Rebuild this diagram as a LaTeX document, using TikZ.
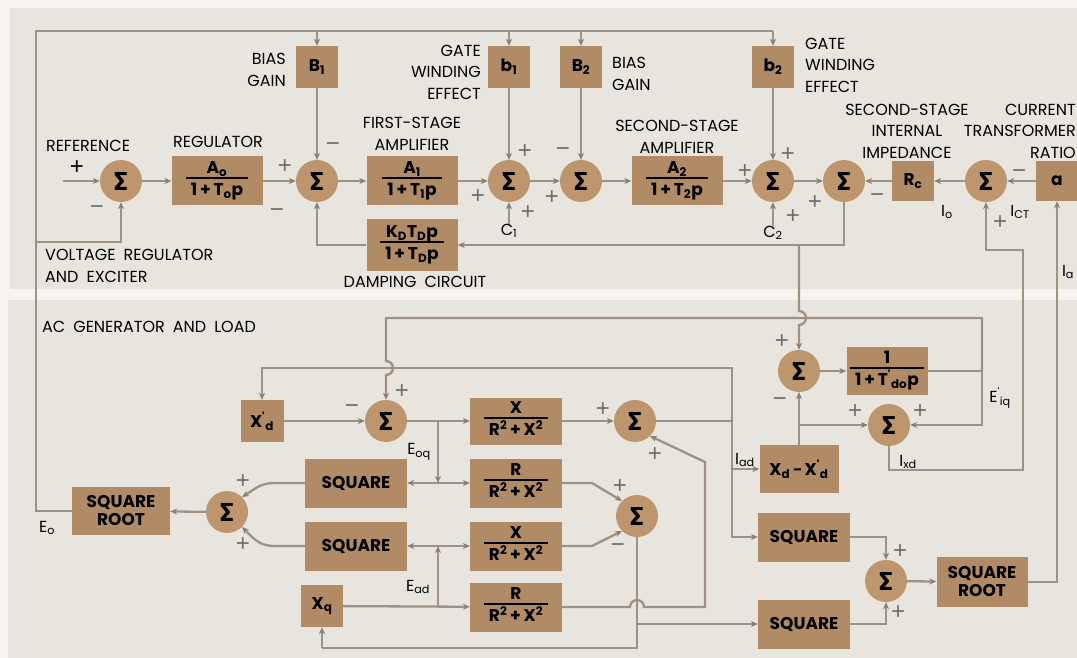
\documentclass[tikz,border=0pt]{standalone}
\usepackage{fontspec}
\setmainfont{Poppins}
\newfontfamily\sigfont{Fira Sans}
\newfontfamily\sgnfont{Liberation Sans}
\usetikzlibrary{arrows.meta}
\definecolor{boxc}{RGB}{176,139,102}
\definecolor{sumc}{RGB}{190,150,110}
\definecolor{linec}{RGB}{160,146,130}
\definecolor{arrc}{RGB}{140,126,112}
\definecolor{bgc}{RGB}{232,228,222}
\definecolor{marc}{RGB}{245,244,241}
\definecolor{signc}{RGB}{110,110,110}
\setlength{\arrayrulewidth}{1.5pt}
\newcommand{\fr}[2]{\begin{tabular}{@{\hspace{5pt}}c@{\hspace{5pt}}}#1\\[-2pt]\hline\rule{0pt}{17pt}#2\end{tabular}}
\newcommand{\su}[1]{\textsubscript{#1}}
\newcommand{\sps}[1]{\textsuperscript{#1}}
\newcommand{\pr}{\textsuperscript{\textquotesingle}}
\newcommand{\mn}{{\sigfont −}}
\newcommand{\pl}{\,+\,}
\newcommand{\lblfont}{\fontsize{16}{21.5}\selectfont\spaceskip=0.5em plus 0.1em minus 0.05em\relax}
\begin{document}
\begin{tikzpicture}[x=1pt,y=-1pt,
  blk/.style={fill=boxc, inner sep=0pt, minimum width=91pt, minimum height=49pt, align=center, font=\fontsize{17}{18}\selectfont\bfseries},
  sqb/.style={blk, minimum width=42pt, minimum height=42pt},
  sumn/.style={circle, fill=sumc, inner sep=0pt, minimum size=42pt, font=\sigfont\fontsize{26}{26}\selectfont\bfseries},
  ln/.style={draw=linec, line width=2.3pt},
  arr/.style={ln, -{Stealth[length=7pt,width=6pt,color=arrc]}},
  lbl/.style={inner sep=0pt, font=\lblfont},
  sgn/.style={inner sep=0pt, text=signc, font=\sgnfont\fontsize{24}{24}\selectfont}
]
\clip (0,0) rectangle (1077,658);
\fill[marc] (0,0) rectangle (1077,658);
\fill[bgc] (10,8) rectangle (1077,289);
\fill[bgc] (8,300) rectangle (1077,658);

% ---------- top panel nodes ----------
\node[sumn] (s0) at (121,181) {Σ};
\node[blk] (reg) at (217,181) {\fr{A\su{o}}{1\pl T\su{o}p}};
\node[sumn] (s1) at (317,181) {Σ};
\node[blk] (a1) at (412,181) {\fr{A\su{1}}{1\pl T\su{1}p}};
\node[sumn] (s2) at (509,181) {Σ};
\node[sumn] (s3) at (581,181) {Σ};
\node[blk] (a2) at (677,181) {\fr{A\su{2}}{1\pl T\su{2}p}};
\node[sumn] (s4) at (773,181) {Σ};
\node[sumn] (s5) at (844,181) {Σ};
\node[sqb, minimum height=40pt] (rc) at (913,181) {R\su{c}};
\node[sumn] (s6) at (986,181) {Σ};
\node[sqb, minimum height=40pt] (ka) at (1057,181) {a};
\node[sqb] (bb1) at (317,67) {B\su{1}};
\node[sqb] (gb1) at (509,67) {b\su{1}};
\node[sqb] (bb2) at (581,67) {B\su{2}};
\node[sqb] (gb2) at (773,67) {b\su{2}};
\node[blk, minimum height=52pt] (damp) at (412,245) {\fr{K\su{D}T\su{D}p}{1\pl T\su{D}p}};

% labels top
\node[lbl, align=right, anchor=east] (lbias1) at (286,70) {BIAS\\GAIN};
\node[lbl, align=right, anchor=east] (lgate1) at (481,72) {GATE\\WINDING\\EFFECT};
\node[lbl, align=left, anchor=west] (lbias2) at (612,74) {BIAS\\GAIN};
\node[lbl, align=left, anchor=west] (lgate2) at (805,65) {GATE\\WINDING\\EFFECT};
\node[lbl] (lref) at (88,146) {REFERENCE};
\node[lbl] (lreg) at (218,142) {REGULATOR};
\node[lbl, align=center] (lfirst) at (412,134) {FIRST-STAGE\\AMPLIFIER};
\node[lbl, align=center] (lsecond) at (677,137) {SECOND-STAGE\\AMPLIFIER};
\node[lbl, align=center] (limp) at (907,131) {SECOND-STAGE\\INTERNAL\\IMPEDANCE};
\node[lbl, align=right, anchor=east] (lct) at (1076,131) {CURRENT\\TRANSFORMER\\RATIO};
\node[lbl] (ldamp) at (415,282) {DAMPING CIRCUIT};
\node[lbl, align=left, anchor=west] (lvr) at (45,266) {VOLTAGE REGULATOR\\AND EXCITER};
\node[lbl, anchor=west] (lac) at (42,327) {AC GENERATOR AND LOAD};
\node[lbl] (c1) at (509,231) {C\su{1}};
\node[lbl] (c2) at (773,233) {C\su{2}};
\node[lbl] (lio) at (947,212) {I\su{o}};
\node[lbl] (lict) at (1020,212) {I\su{CT}};
\node[lbl] (lia) at (1068,272) {I\su{a}};

% ---------- bottom panel nodes ----------
\node[sqb, minimum width=43pt] (xpd) at (262,421) {X\pr\su{d}};
\node[sumn] (b1) at (386,421) {Σ};
\node[blk, minimum width=92pt, minimum height=47pt] (x1) at (516,421) {\fr{X}{R\sps{2}\pl X\sps{2}}};
\node[sumn] (b2) at (635,421) {Σ};
\node[sumn] (sf) at (799,371) {Σ};
\node[blk, minimum width=81pt, minimum height=48pt] (tb) at (887,371) {\fr{1}{1\pl T\pr\su{do}p}};
\node[sumn] (sg) at (889,425) {Σ};
\node[blk, minimum width=79pt, minimum height=48pt] (xd) at (799,469) {X\su{d}\,\mn\,X\pr\su{d}};
\node[blk, minimum width=102pt] (sq1) at (356,483) {SQUARE};
\node[blk, minimum width=102pt] (sq2) at (356,546) {SQUARE};
\node[blk, minimum width=92pt] (r1) at (516,483) {\fr{R}{R\sps{2}\pl X\sps{2}}};
\node[blk, minimum width=92pt] (x2) at (516,546) {\fr{X}{R\sps{2}\pl X\sps{2}}};
\node[blk, minimum width=92pt] (r3) at (516,607) {\fr{R}{R\sps{2}\pl X\sps{2}}};
\node[sqb] (xq) at (322,606) {X\su{q}};
\node[sumn] (sb3) at (637,516) {Σ};
\node[sumn] (sL) at (227,512) {Σ};
\node[blk, minimum width=98pt, minimum height=48pt] (rtL) at (121,511) {SQUARE\\ROOT};
\node[blk, minimum width=92pt] (sq3) at (804,537) {SQUARE};
\node[blk, minimum width=92pt] (sq4) at (804,624) {SQUARE};
\node[sumn] (sR) at (886,581) {Σ};
\node[blk, minimum height=50pt] (rtR) at (982,582) {SQUARE\\ROOT};

\node[lbl] (leoq) at (419,452) {E\su{oq}};
\node[lbl] (lead) at (418,587) {E\su{ad}};
\node[lbl] (liad) at (745,460) {I\su{ad}};
\node[lbl] (lixd) at (908,462) {I\su{xd}};
\node[lbl] (leiq) at (1000,398) {E\pr\su{iq}};
\node[lbl] (leo) at (47,528) {E\su{o}};

% ---------- connectors top ----------
\draw[ln] (rtL.west) -- (36,511) -- (36,31) -- (773,31);
\draw[arr] (317,31) -- (bb1);
\draw[arr] (509,31) -- (gb1);
\draw[arr] (581,31) -- (bb2);
\draw[arr] (773,31) -- (gb2);
\draw[arr] (36,242) -- (121,242) -- (s0);
\draw[arr] (63,181) -- (s0);
\draw[arr] (s0) -- (reg);
\draw[arr] (reg) -- (s1);
\draw[arr] (s1) -- (a1);
\draw[arr] (a1) -- (s2);
\draw[arr] (s2) -- (s3);
\draw[arr] (s3) -- (a2);
\draw[arr] (a2) -- (s4);
\draw[arr] (s4) -- (s5);
\draw[arr] (rc) -- (s5);
\draw[arr] (s6) -- (rc);
\draw[arr] (ka) -- (s6);
\draw[arr] (bb1) -- (s1);
\draw[arr] (gb1) -- (s2);
\draw[arr] (bb2) -- (s3);
\draw[arr] (gb2) -- (s4);
\draw[arr] (c1) -- (s2);
\draw[arr] (c2) -- (s4);
\draw[arr] (damp.west) -| (s1.south);
\draw[arr] (s5.south) |- (damp.east);
\draw[arr] (799,245) -- (799,311) arc[start angle=-90,end angle=90,radius=7] -- (sf.north);
\draw[arr] (sg.south) -- (889,470) -- (1023,470) -- (1023,250) -- (986,250) -- (s6.south);
\draw[arr] (rtR.east) -- (1057,582) -- (ka.south);

% ---------- connectors bottom ----------
\draw[arr] (sf) -- (tb);
\draw[ln] (tb.east) -- (982,371);
\draw[arr] (982,371) -- (982,318) -- (386,318) -- (386,361) arc[start angle=-90,end angle=90,radius=7] -- (b1.north);
\draw[arr] (982,371) |- (sg.east);
\draw[arr] (xd.north) -- (sf.south);
\draw[arr] (799,425) -- (sg.west);
\draw[arr] (xpd) -- (b1);
\draw[arr] (b1) -- (x1);
\draw[arr] (x1) -- (b2);
\draw[ln] (b2.east) -- (732,421);
\draw[arr] (732,421) -- (732,368) -- (262,368) -- (xpd.north);
\draw[arr] (732,421) |- (xd.west);
\draw[arr] (732,421) |- (sq3.west);
\draw[arr] (438,421) -- (438,483);
\draw[arr] (438,483) -- (sq1);
\draw[arr] (438,483) -- (r1);
\draw[arr] (xq) -- (r3);
\draw[arr] (438,607) -- (438,546);
\draw[arr] (438,546) -- (sq2);
\draw[arr] (438,546) -- (x2);
\draw[arr] (sL) -- (rtL);
\draw[arr] (sq1.west) -- (275,483) .. controls (260,483) and (255,489) .. (sL.north east);
\draw[arr] (sq2.west) -- (275,546) .. controls (260,546) and (255,540) .. (sL.south east);
\draw[arr] (r1.east) -- (592,483) -- (sb3.north west);
\draw[arr] (x2.east) -- (592,546) -- (sb3.south west);
\draw[arr] (r3.east) -- (630,607) arc[start angle=180,end angle=360,radius=7] -- (705,607) -- (705,462) -- (b2.south east);
\draw[ln] (sb3.south) -- (637,648) -- (322,648);
\draw[arr] (322,648) -- (xq.south);
\draw[arr] (637,624) -- (sq4.west);
\draw[arr] (sq3.east) -| (sR.north);
\draw[arr] (sq4.east) -| (sR.south);
\draw[arr] (sR) -- (rtR);

% ---------- signs ----------
\node[sgn, text=black] (p0) at (77,168) {+};
\node[sgn] (m0) at (97,210) {−};
\node[sgn] (p1) at (285,167) {+};
\node[sgn] (m1a) at (333,147) {−};
\node[sgn] (m1b) at (277,213) {−};
\node[sgn] (p2a) at (525,152) {+};
\node[sgn] (p2b) at (478,197) {+};
\node[sgn] (p2c) at (528,213) {+};
\node[sgn] (m3) at (563,152) {−};
\node[sgn] (p3) at (552,198) {+};
\node[sgn] (p4a) at (745,172) {+};
\node[sgn] (p4b) at (788,155) {+};
\node[sgn] (p4c) at (793,217) {+};
\node[sgn] (p5) at (815,203) {+};
\node[sgn] (m5) at (877,198) {−};
\node[sgn] (m6) at (1019,174) {−};
\node[sgn] (p6) at (1000,223) {+};
\node[sgn] (pf) at (782,342) {+};
\node[sgn] (mf) at (780,402) {−};
\node[sgn] (pga) at (855,412) {+};
\node[sgn] (pgb) at (920,412) {+};
\node[sgn] (pb1) at (402,392) {+};
\node[sgn] (mb1) at (352,409) {−};
\node[sgn] (pb2a) at (603,410) {+};
\node[sgn] (pb2b) at (655,455) {+};
\node[sgn] (pb3) at (620,487) {+};
\node[sgn] (mb3) at (618,548) {−};
\node[sgn] (pLa) at (243,482) {+};
\node[sgn] (pLb) at (243,545) {+};
\node[sgn] (pRa) at (900,552) {+};
\node[sgn] (pRb) at (898,613) {+};
\end{tikzpicture}
\end{document}
